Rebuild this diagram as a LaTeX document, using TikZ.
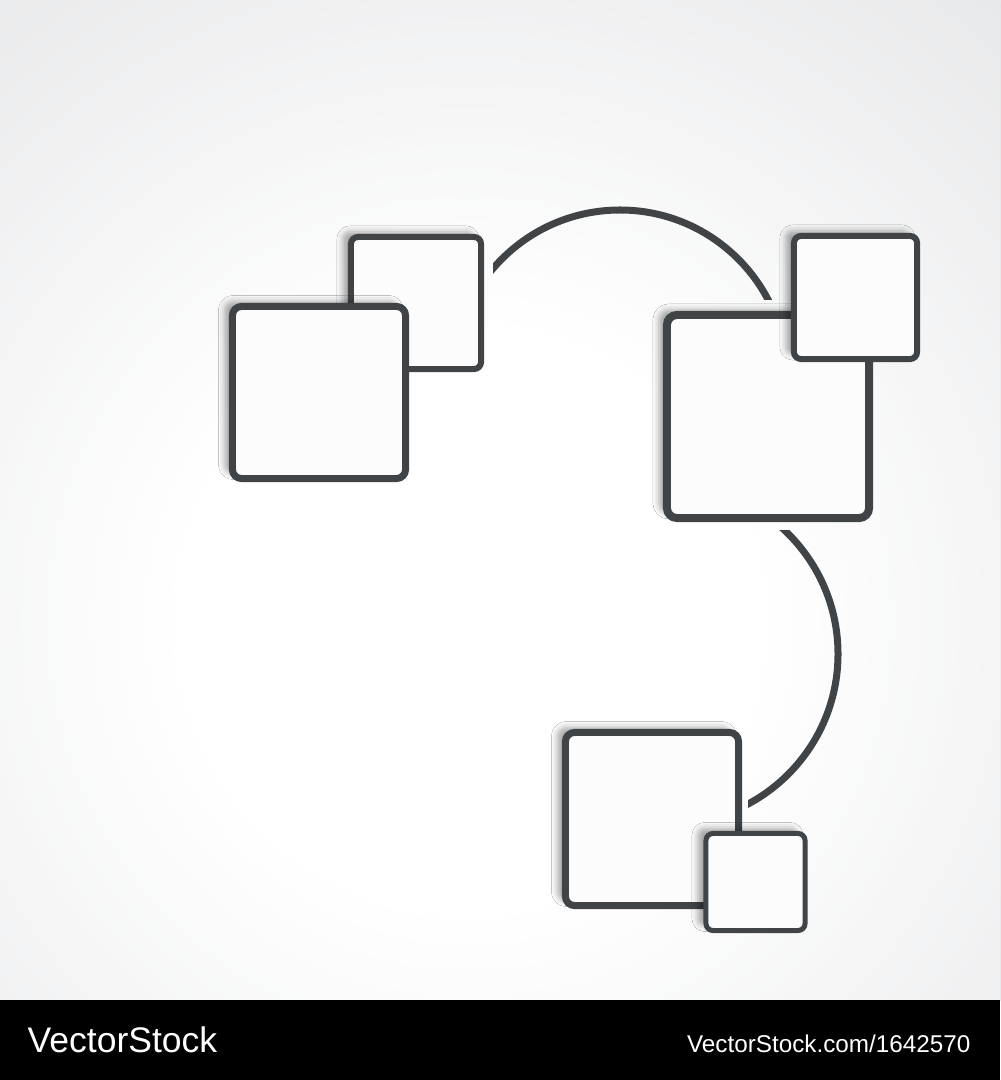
\documentclass[tikz,border=0pt]{standalone}
\usepackage{fontspec}
\setmainfont{Liberation Sans}
\usetikzlibrary{shadows.blur}
\definecolor{edgegray}{HTML}{404447}
\definecolor{boxfill}{HTML}{FCFCFC}
\definecolor{bgedge}{HTML}{E0E1E3}
\tikzset{
    box/.style={
        rectangle,          % 圆角方框
        draw=edgegray,      % 边框颜色
        fill=boxfill,       % 填充颜色
        inner sep=0, outer sep=0,
        blur shadow={shadow xshift=-0.08cm, shadow yshift=0.05cm,
                     shadow blur radius=0.06cm, shadow opacity=35}
    },
    bigbox/.style={box, line width=0.07cm, rounded corners=0.09cm},
    smallbox/.style={box, line width=0.06cm, rounded corners=0.07cm},
    arcline/.style={draw=edgegray, line width=0.07cm},
    bartext/.style={text=white, inner sep=0, anchor=base west}
}

\begin{document}
\begin{tikzpicture}[x=0.01cm, y=-0.01cm]
\useasboundingbox (0,0) rectangle (1000,1080);

% 背景
\begin{scope}
\clip (0,0) rectangle (1000,1000);
\fill[bgedge] (0,0) rectangle (1000,1000);
\foreach \i in {0,...,56} {
    \pgfmathsetmacro{\r}{1000-\i*12.5}
    \pgfmathsetmacro{\p}{100-\i*100/56}
    \fill[bgedge!\p!white] (470,620) circle (\r);
}
\end{scope}
\fill[black] (0,1000) rectangle (1000,1080);

% 圆弧
\begin{scope}
\clip (493,0) rectangle (1000,300);
\draw[arcline] (620,377) circle (167);
\end{scope}
\begin{scope}
\clip (748,530) rectangle (1000,1000);
\draw[arcline] (668,654) circle (170);
\end{scope}

% 方框
\node[smallbox, minimum width=1.30cm, minimum height=1.32cm] (Aback) at (416,303) {};
\node[bigbox, minimum width=1.73cm, minimum height=1.72cm] (Afront) at (319,392.5) {};

\node[bigbox, line width=0.08cm, rounded corners=0.10cm,
      minimum width=2.02cm, minimum height=2.03cm] (Bback) at (768,416.5) {};
\node[smallbox, minimum width=1.23cm, minimum height=1.23cm] (Bfront) at (855.5,297.5) {};

\node[bigbox, minimum width=1.73cm, minimum height=1.73cm] (Cback) at (652,819) {};
\node[smallbox, line width=0.05cm, minimum width=0.99cm, minimum height=0.97cm] (Cfront) at (755.5,882) {};

% 底部文字
\node[bartext, font=\fontsize{10.1}{12}\selectfont] (brand) at (27,1052) {VectorStock};
\node[bartext, anchor=base east, font=\fontsize{6.9}{9}\selectfont] (stockid) at (971,1052) {VectorStock.com/1642570};

\end{tikzpicture}
\end{document}
